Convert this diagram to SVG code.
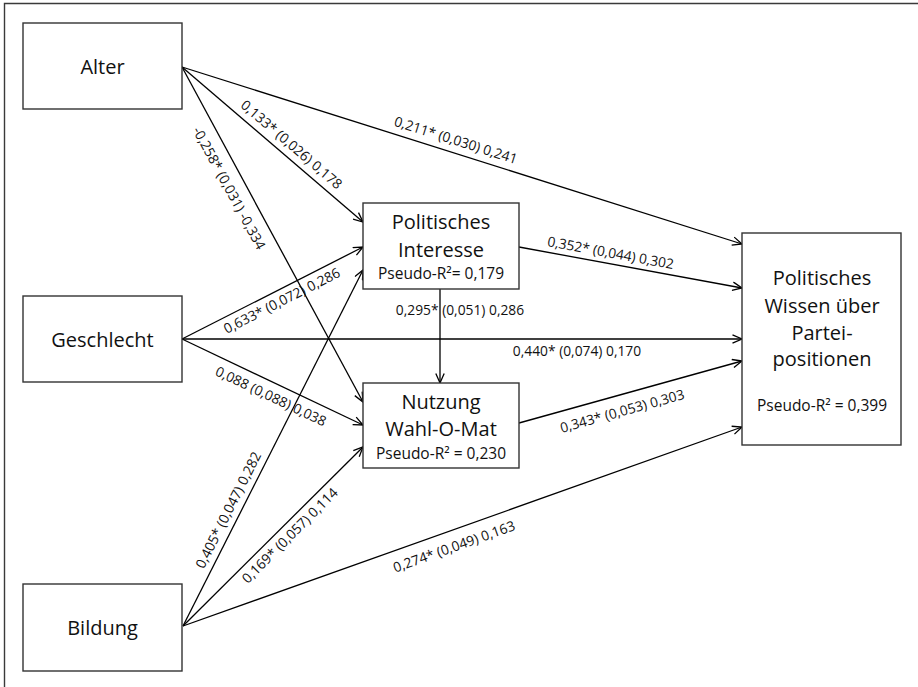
<svg xmlns="http://www.w3.org/2000/svg" width="918" height="687" viewBox="0 0 918 687">
<defs>
<marker id="arr" markerUnits="userSpaceOnUse" markerWidth="12" markerHeight="12" refX="10" refY="5" orient="auto">
<path d="M0.5,0.8 L10,5 L0.5,9.2" fill="none" stroke="#000" stroke-width="1.3"/>
</marker>
<style>
.box{fill:#fff;stroke:#333;stroke-width:1.4}
.t{font-family:"Open Sans","Noto Sans",sans-serif;font-size:20px;fill:#111;text-anchor:middle}
.r{font-family:"Open Sans","Noto Sans",sans-serif;font-size:15.5px;fill:#111;text-anchor:middle}
.e{fill:none;stroke:#000;stroke-width:1.3;marker-end:url(#arr)}
.l{font-family:"Open Sans","Noto Sans",sans-serif;font-size:13.8px;fill:#111;text-anchor:middle}
.frame{fill:none;stroke:#3a3a3a;stroke-width:1.4}
</style>
</defs>
<rect width="918" height="687" fill="#fff"/>
<path class="frame" d="M4.5,687 L4.5,3.5 L918,3.5"/>
<g id="connectors">
<line class="e" x1="182" y1="67" x2="742" y2="244"/>
<line class="e" x1="182" y1="67" x2="363" y2="222"/>
<line class="e" x1="182" y1="67" x2="363" y2="402"/>
<line class="e" x1="182" y1="339" x2="363" y2="247"/>
<line class="e" x1="182" y1="339" x2="742" y2="339"/>
<line class="e" x1="182" y1="339" x2="363" y2="425"/>
<line class="e" x1="183" y1="626" x2="363" y2="270"/>
<line class="e" x1="183" y1="626" x2="363" y2="447"/>
<line class="e" x1="183" y1="626" x2="742" y2="427"/>
<line class="e" x1="519" y1="247" x2="742" y2="288"/>
<line class="e" x1="519" y1="423" x2="742" y2="361"/>
<line class="e" x1="440" y1="289" x2="440" y2="383"/>
<text class="l" transform="translate(452,152.4) rotate(17.54)" y="-8">0,211* (0,030) 0,241</text>
<text class="l" transform="translate(283.5,153.9) rotate(40.57)" y="-7.5">0,133* (0,026) 0,178</text>
<text class="l" transform="translate(243.3,180.4) rotate(61.62)" y="21">-0,258* (0,031) -0,334</text>
<text class="l" transform="translate(276.8,290.8) rotate(-26.94)" y="16">0,633* (0,072) 0,286</text>
<text class="l" transform="translate(276.8,384) rotate(25.41)" y="18.5">0,088 (0,088) 0,038</text>
<text class="l" transform="translate(238.9,515.4) rotate(-63.18)" y="-7">0,405* (0,047) 0,282</text>
<text class="l" transform="translate(282,527.6) rotate(-44.83)" y="16">0,169* (0,057) 0,114</text>
<text class="l" transform="translate(448.6,531.4) rotate(-19.6)" y="21">0,274* (0,049) 0,163</text>
<text class="l" transform="translate(608.7,263.5) rotate(10.42)" y="-6">0,352* (0,044) 0,302</text>
<text class="l" transform="translate(617.9,395.5) rotate(-15.54)" y="21">0,343* (0,053) 0,303</text>
<text class="l" x="460" y="315">0,295* (0,051) 0,286</text>
<text class="l" x="577" y="355.5">0,440* (0,074) 0,170</text>
</g>
<g id="alter">
<rect class="box" x="23" y="23" width="159" height="86"/>
<text class="t" x="102.5" y="74">Alter</text>
</g>
<g id="geschlecht">
<rect class="box" x="23" y="296" width="159" height="86"/>
<text class="t" x="102.5" y="347">Geschlecht</text>
</g>
<g id="bildung">
<rect class="box" x="23" y="584" width="159" height="87"/>
<text class="t" x="102.5" y="635">Bildung</text>
</g>
<g id="interesse">
<rect class="box" x="363" y="203" width="156" height="86"/>
<text class="t" x="441" y="229">Politisches</text>
<text class="t" x="441" y="256.5">Interesse</text>
<text class="r" x="441" y="279">Pseudo-R²= 0,179</text>
</g>
<g id="nutzung">
<rect class="box" x="363" y="383" width="156" height="85"/>
<text class="t" x="441" y="409">Nutzung</text>
<text class="t" x="441" y="435.5">Wahl-O-Mat</text>
<text class="r" x="441" y="458.5">Pseudo-R² = 0,230</text>
</g>
<g id="wissen">
<rect class="box" x="742" y="233" width="159" height="212"/>
<text class="t" x="822" y="285">Politisches</text>
<text class="t" x="822" y="312.5">Wissen über</text>
<text class="t" x="822" y="339.5">Partei-</text>
<text class="t" x="822" y="366">positionen</text>
<text class="r" x="822" y="410.5">Pseudo-R² = 0,399</text>
</g>
</svg>
